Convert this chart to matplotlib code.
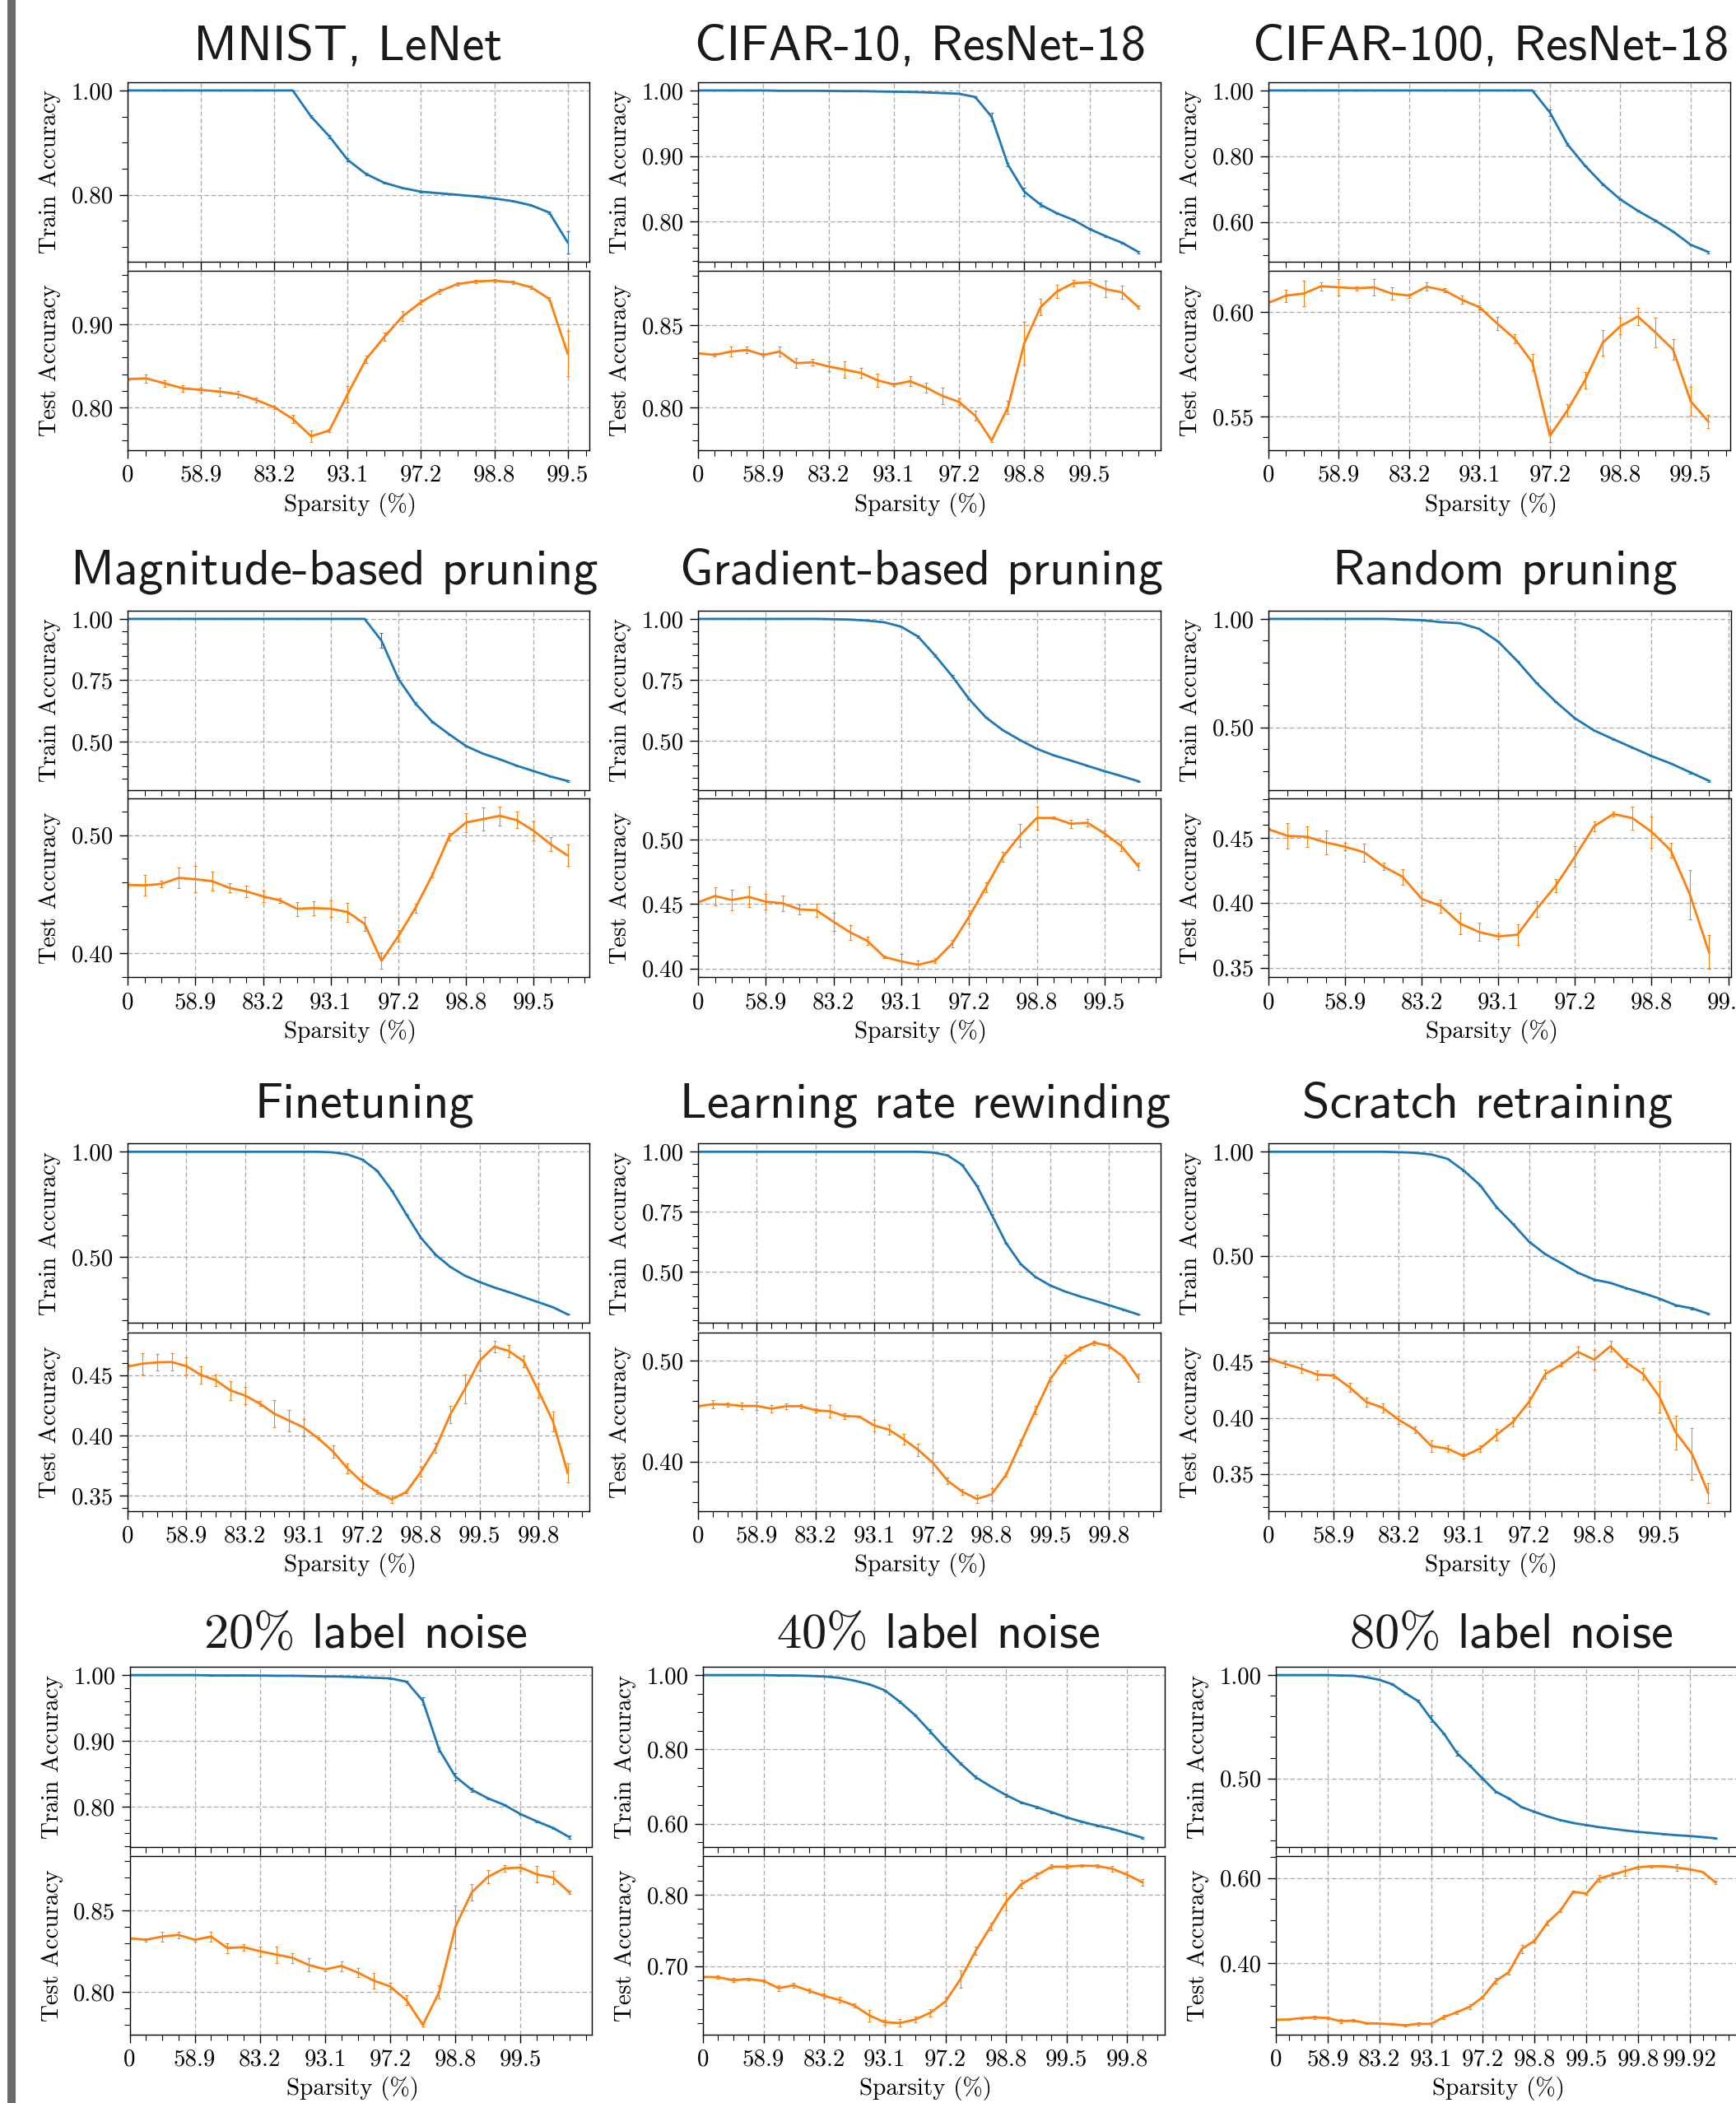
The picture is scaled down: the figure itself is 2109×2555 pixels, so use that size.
import matplotlib
matplotlib.use("Agg")
import matplotlib.pyplot as plt
from matplotlib.ticker import (MultipleLocator, AutoMinorLocator, FixedLocator,
                               FixedFormatter, FormatStrFormatter)
from matplotlib.patches import Rectangle

# ---------------- data ----------------
sparsity_labels = ["0", "58.9", "83.2", "93.1", "97.2", "98.8", "99.5", "99.8", "99.92"]

titles = ["MNIST, LeNet", "CIFAR-10, ResNet-18", "CIFAR-100, ResNet-18",
          "Magnitude-based pruning", "Gradient-based pruning", "Random pruning",
          "Finetuning", "Learning rate rewinding", "Scratch retraining",
          r"$20\%$ label noise", r"$40\%$ label noise", r"$80\%$ label noise"]

mnist_train = [1.0, 1.0, 1.0, 1.0, 1.0, 1.0, 1.0, 1.0, 1.0, 1.0, 0.950, 0.912, 0.867, 0.840,
               0.823, 0.813, 0.806, 0.803, 0.800, 0.797, 0.793, 0.788, 0.780, 0.766, 0.709]
mnist_train_err = [0, 0, 0, 0, 0, 0, 0, 0, 0, 0, 0.002, 0.003, 0.003, 0.002, 0.001, 0.001,
                   0.001, 0.001, 0.001, 0.001, 0.001, 0.001, 0.001, 0.002, 0.021]
mnist_test = [0.834, 0.835, 0.829, 0.823, 0.821, 0.819, 0.816, 0.809, 0.800, 0.786, 0.765,
              0.772, 0.816, 0.858, 0.885, 0.910, 0.927, 0.940, 0.949, 0.952, 0.953, 0.951,
              0.945, 0.931, 0.865]
mnist_test_err = [0.001, 0.005, 0.004, 0.004, 0.003, 0.005, 0.004, 0.003, 0.002, 0.005, 0.007,
                  0.002, 0.010, 0.004, 0.005, 0.006, 0.003, 0.003, 0.002, 0.002, 0.002, 0.002,
                  0.002, 0.002, 0.027]

cifar10_train = [1.0, 1.0, 1.0, 1.0, 1.0, 0.9995, 0.9995, 0.9995, 0.9993, 0.999, 0.999, 0.9985,
                 0.998, 0.9978, 0.997, 0.996, 0.995, 0.990, 0.960, 0.887, 0.846, 0.826, 0.813,
                 0.803, 0.789, 0.778, 0.768, 0.754]
cifar10_train_err = [0, 0, 0, 0, 0, 0, 0, 0, 0, 0, 0, 0, 0, 0, 0, 0, 0.0005, 0.001, 0.006, 0.003,
                     0.006, 0.003, 0.001, 0.001, 0.001, 0.001, 0.001, 0.002]
cifar10_test = [0.833, 0.832, 0.834, 0.835, 0.832, 0.834, 0.827, 0.8275, 0.825, 0.823, 0.821,
                0.8166, 0.814, 0.816, 0.812, 0.807, 0.8035, 0.795, 0.780, 0.800, 0.839, 0.861,
                0.8705, 0.8756, 0.8762, 0.872, 0.870, 0.861]
cifar10_test_err = [0.0005, 0.001, 0.003, 0.002, 0.001, 0.003, 0.003, 0.002, 0.003, 0.005, 0.003,
                    0.004, 0.001, 0.003, 0.003, 0.005, 0.002, 0.003, 0.001, 0.004, 0.013, 0.005,
                    0.004, 0.002, 0.002, 0.005, 0.004, 0.001]

cifar100_train = [1.0, 1.0, 1.0, 1.0, 1.0, 1.0, 1.0, 1.0, 1.0, 1.0, 1.0, 1.0, 1.0, 1.0, 1.0, 1.0,
                  0.933, 0.836, 0.771, 0.715, 0.669, 0.634, 0.604, 0.571, 0.531, 0.509]
cifar100_train_err = [0, 0, 0, 0, 0, 0, 0, 0, 0, 0, 0, 0, 0, 0, 0, 0, 0.010, 0.003, 0.002,
                      0.002, 0.002, 0.002, 0.002, 0.002, 0.002, 0.004]
cifar100_test = [0.6045, 0.608, 0.609, 0.6125, 0.612, 0.6115, 0.612, 0.609, 0.608, 0.6123,
                 0.6105, 0.606, 0.6024, 0.5946, 0.5873, 0.576, 0.5407, 0.553, 0.5675, 0.5854,
                 0.5933, 0.598, 0.5903, 0.5821, 0.5573, 0.5476]
cifar100_test_err = [0.001, 0.003, 0.006, 0.002, 0.004, 0.001, 0.004, 0.003, 0.001, 0.002, 0.001,
                     0.002, 0.001, 0.003, 0.002, 0.004, 0.003, 0.003, 0.004, 0.006, 0.004, 0.004,
                     0.007, 0.005, 0.007, 0.003]

magnitude_train = [1.0, 1.0, 1.0, 1.0, 1.0, 1.0, 1.0, 1.0, 1.0, 1.0, 1.0, 1.0, 1.0, 1.0, 1.0,
                   0.911, 0.755, 0.656, 0.581, 0.530, 0.482, 0.451, 0.428, 0.402, 0.380, 0.358,
                   0.340]
magnitude_train_err = [0, 0, 0, 0, 0, 0, 0, 0, 0, 0, 0, 0, 0, 0, 0, 0.030, 0.005, 0.006, 0.003,
                       0.002, 0.002, 0.002, 0.002, 0.002, 0.002, 0.002, 0.003]
magnitude_test = [0.4578, 0.4575, 0.4587, 0.4638, 0.4627, 0.461, 0.4553, 0.4524, 0.4481, 0.4447,
                  0.4376, 0.4382, 0.4376, 0.4348, 0.4248, 0.3934, 0.4145, 0.4382, 0.4661, 0.4989,
                  0.5108, 0.5137, 0.5165, 0.5128, 0.5037, 0.4923, 0.4829]
magnitude_test_err = [0.002, 0.0085, 0.003, 0.009, 0.011, 0.008, 0.004, 0.005, 0.005, 0.002,
                      0.006, 0.006, 0.007, 0.008, 0.006, 0.007, 0.005, 0.004, 0.002, 0.003, 0.008,
                      0.010, 0.008, 0.007, 0.008, 0.006, 0.009]

gradient_train = [1.0, 1.0, 1.0, 1.0, 1.0, 1.0, 1.0, 1.0, 0.9986, 0.997, 0.993, 0.986, 0.968,
                  0.927, 0.850, 0.766, 0.672, 0.596, 0.544, 0.504, 0.468, 0.441, 0.420, 0.398,
                  0.376, 0.356, 0.335]
gradient_train_err = [0, 0, 0, 0, 0, 0, 0, 0, 0, 0, 0.001, 0.001, 0.002, 0.004, 0.004, 0.003,
                      0.002, 0.001, 0.001, 0.001, 0.001, 0.001, 0.001, 0.001, 0.001, 0.001, 0.002]
gradient_test = [0.4513, 0.4562, 0.4531, 0.4555, 0.4518, 0.4505, 0.4458, 0.4451, 0.4362, 0.4279,
                 0.4214, 0.4089, 0.4055, 0.4029, 0.406, 0.4193, 0.4401, 0.463, 0.4865, 0.5031,
                 0.5167, 0.5167, 0.5122, 0.513, 0.5047, 0.4948, 0.4792]
gradient_test_err = [0.001, 0.007, 0.008, 0.008, 0.006, 0.006, 0.004, 0.005, 0.007, 0.006, 0.003,
                     0.001, 0.006, 0.003, 0.002, 0.003, 0.005, 0.004, 0.004, 0.009, 0.009, 0.001,
                     0.003, 0.003, 0.002, 0.004, 0.003]

random_train = [1.0, 1.0, 1.0, 1.0, 1.0, 1.0, 1.0, 0.997, 0.994, 0.985, 0.980, 0.954, 0.895,
                0.805, 0.704, 0.618, 0.542, 0.486, 0.446, 0.407, 0.368, 0.334, 0.294, 0.254]
random_train_err = [0, 0, 0, 0, 0, 0, 0, 0, 0, 0, 0.001, 0.001, 0.002, 0.002, 0.002, 0.003,
                    0.002, 0.002, 0.003, 0.002, 0.002, 0.002, 0.006, 0.004]
random_test = [0.4566, 0.4515, 0.4508, 0.4464, 0.4431, 0.4388, 0.4279, 0.42, 0.403, 0.3975,
               0.384, 0.3774, 0.3741, 0.3754, 0.3952, 0.4132, 0.4355, 0.4589, 0.4683, 0.4652,
               0.4546, 0.4404, 0.4063, 0.3619]
random_test_err = [0.001, 0.010, 0.008, 0.009, 0.003, 0.007, 0.003, 0.006, 0.005, 0.005, 0.008,
                   0.007, 0.002, 0.008, 0.006, 0.005, 0.008, 0.004, 0.002, 0.009, 0.012, 0.006,
                   0.019, 0.013]

finetune_train = [1.0, 1.0, 1.0, 1.0, 1.0, 1.0, 1.0, 1.0, 1.0, 1.0, 1.0, 1.0, 1.0, 1.0, 0.997,
                  0.987, 0.963, 0.910, 0.817, 0.702, 0.590, 0.510, 0.452, 0.410, 0.380, 0.354,
                  0.332, 0.308, 0.284, 0.260, 0.226]
finetune_train_err = [0, 0, 0, 0, 0, 0, 0, 0, 0, 0, 0, 0, 0, 0, 0, 0.001, 0.001, 0.002, 0.002,
                      0.002, 0.001, 0.001, 0.001, 0.001, 0.001, 0.001, 0.001, 0.001, 0.001,
                      0.001, 0.002]
finetune_test = [0.4571, 0.4594, 0.4605, 0.4608, 0.4574, 0.45, 0.4457, 0.4372, 0.433, 0.4264,
                 0.4179, 0.4122, 0.4065, 0.3974, 0.3866, 0.3724, 0.3611, 0.3531, 0.3469, 0.3531,
                 0.3699, 0.3895, 0.4173, 0.4386, 0.4619, 0.4736, 0.4699, 0.4614, 0.4372, 0.4116,
                 0.369]
finetune_test_err = [0.002, 0.009, 0.007, 0.007, 0.007, 0.007, 0.005, 0.008, 0.007, 0.002, 0.011,
                     0.009, 0.007, 0.001, 0.005, 0.004, 0.005, 0.002, 0.003, 0.001, 0.004, 0.004,
                     0.007, 0.012, 0.008, 0.005, 0.005, 0.005, 0.006, 0.008, 0.008]

lrr_train = [1.0, 1.0, 1.0, 1.0, 1.0, 1.0, 1.0, 1.0, 1.0, 1.0, 1.0, 1.0, 1.0, 1.0, 1.0, 1.0,
             0.997, 0.985, 0.945, 0.858, 0.739, 0.619, 0.532, 0.479, 0.444, 0.419, 0.399,
             0.381, 0.362, 0.343, 0.323]
lrr_train_err = [0, 0, 0, 0, 0, 0, 0, 0, 0, 0, 0, 0, 0, 0, 0, 0, 0.001, 0.001, 0.001, 0.002,
                 0.002, 0.002, 0.001, 0.001, 0.001, 0.001, 0.001, 0.001, 0.001, 0.001, 0.001]
lrr_test = [0.4547, 0.4567, 0.4564, 0.455, 0.455, 0.4523, 0.4547, 0.4547, 0.4507, 0.4497, 0.445,
            0.4443, 0.4356, 0.4315, 0.4221, 0.4114, 0.3987, 0.3809, 0.3701, 0.3628, 0.3674,
            0.3869, 0.4188, 0.4507, 0.4815, 0.5017, 0.5117, 0.5178, 0.5144, 0.5034, 0.4826]
lrr_test_err = [0.001, 0.004, 0.002, 0.003, 0.004, 0.004, 0.003, 0.002, 0.002, 0.006, 0.003,
                0.001, 0.006, 0.005, 0.005, 0.006, 0.010, 0.003, 0.003, 0.004, 0.006, 0.002,
                0.003, 0.004, 0.002, 0.004, 0.002, 0.002, 0.002, 0.001, 0.004]

scratch_train = [1.0, 1.0, 1.0, 1.0, 1.0, 1.0, 1.0, 1.0, 0.998, 0.995, 0.987, 0.966, 0.909,
                 0.839, 0.734, 0.654, 0.568, 0.508, 0.464, 0.419, 0.386, 0.370, 0.344, 0.321,
                 0.295, 0.263, 0.248, 0.222]
scratch_train_err = [0, 0, 0, 0, 0, 0, 0, 0, 0, 0, 0.001, 0.001, 0.002, 0.002, 0.004, 0.002,
                     0.002, 0.002, 0.002, 0.003, 0.004, 0.003, 0.002, 0.003, 0.004, 0.004,
                     0.006, 0.005]
scratch_test = [0.453, 0.4482, 0.4439, 0.4385, 0.4376, 0.427, 0.4142, 0.4091, 0.3982, 0.3894,
                0.3748, 0.3724, 0.3658, 0.3727, 0.3848, 0.3961, 0.4142, 0.4391, 0.4476, 0.4588,
                0.4518, 0.4639, 0.4491, 0.4391, 0.4188, 0.387, 0.3679, 0.333]
scratch_test_err = [0.001, 0.003, 0.004, 0.004, 0.002, 0.004, 0.004, 0.004, 0.004, 0.003, 0.005,
                    0.003, 0.002, 0.003, 0.005, 0.004, 0.004, 0.004, 0.002, 0.005, 0.009, 0.005,
                    0.004, 0.005, 0.014, 0.015, 0.023, 0.009]

noise20_train = [1.0, 1.0, 1.0, 1.0, 1.0, 0.9995, 0.9995, 0.9995, 0.9993, 0.999, 0.999, 0.9985,
                 0.998, 0.9978, 0.997, 0.996, 0.995, 0.990, 0.961, 0.887, 0.846, 0.826, 0.813,
                 0.803, 0.789, 0.778, 0.768, 0.754]
noise20_train_err = [0, 0, 0, 0, 0, 0, 0, 0, 0, 0, 0, 0, 0, 0, 0, 0, 0.0005, 0.001, 0.006, 0.003,
                     0.006, 0.003, 0.001, 0.001, 0.001, 0.001, 0.001, 0.002]
noise20_test = [0.833, 0.832, 0.834, 0.835, 0.832, 0.834, 0.827, 0.8275, 0.825, 0.823, 0.821,
                0.8166, 0.814, 0.816, 0.812, 0.807, 0.8035, 0.795, 0.780, 0.800, 0.840, 0.861,
                0.8705, 0.8756, 0.8762, 0.872, 0.870, 0.861]
noise20_test_err = [0.0005, 0.001, 0.003, 0.002, 0.001, 0.003, 0.003, 0.002, 0.003, 0.005, 0.003,
                    0.004, 0.001, 0.003, 0.003, 0.005, 0.002, 0.003, 0.001, 0.004, 0.013, 0.005,
                    0.004, 0.002, 0.002, 0.005, 0.004, 0.001]

noise40_train = [1.0, 1.0, 1.0, 1.0, 1.0, 0.9991, 0.999, 0.998, 0.9963, 0.9927, 0.985, 0.975,
                 0.959, 0.928, 0.892, 0.848, 0.803, 0.762, 0.725, 0.700, 0.677, 0.657, 0.645,
                 0.631, 0.617, 0.605, 0.595, 0.586, 0.574, 0.562]
noise40_train_err = [0, 0, 0, 0, 0, 0, 0, 0, 0, 0, 0.001, 0.002, 0.002, 0.003, 0.003, 0.006,
                     0.005, 0.004, 0.004, 0.002, 0.004, 0.003, 0.003, 0.002, 0.002, 0.002, 0.002,
                     0.002, 0.001, 0.002]
noise40_test = [0.6848, 0.6843, 0.68, 0.6819, 0.679, 0.669, 0.6729, 0.6652, 0.6581, 0.6524,
                0.6443, 0.6305, 0.621, 0.62, 0.6248, 0.6343, 0.65, 0.6819, 0.7214, 0.7557, 0.79,
                0.8148, 0.8271, 0.8395, 0.8395, 0.841, 0.8405, 0.8367, 0.8281, 0.8176]
noise40_test_err = [0.001, 0.002, 0.003, 0.002, 0.002, 0.004, 0.003, 0.003, 0.003, 0.004, 0.003,
                    0.008, 0.003, 0.005, 0.004, 0.005, 0.006, 0.012, 0.006, 0.005, 0.012, 0.006,
                    0.004, 0.003, 0.003, 0.002, 0.002, 0.004, 0.004, 0.005]

noise80_train = [1.0, 1.0, 1.0, 1.0, 1.0, 0.998, 0.997, 0.990, 0.977, 0.956, 0.913, 0.874, 0.789,
                 0.716, 0.623, 0.562, 0.498, 0.436, 0.403, 0.361, 0.338, 0.316, 0.298, 0.284,
                 0.274, 0.264, 0.256, 0.248, 0.241, 0.236, 0.230, 0.225, 0.221, 0.216, 0.210]
noise80_train_err = [0, 0, 0, 0, 0, 0, 0, 0, 0.002, 0.003, 0.004, 0.006, 0.015, 0.003, 0.012,
                     0.004, 0.003, 0.004, 0.004, 0.003, 0.002, 0.002, 0.002, 0.002, 0.002, 0.001,
                     0.001, 0.001, 0.001, 0.001, 0.001, 0.001, 0.001, 0.001, 0.001]
noise80_test = [0.2669, 0.2677, 0.271, 0.2726, 0.271, 0.2637, 0.2653, 0.2589, 0.2581, 0.2565,
                0.254, 0.2573, 0.2573, 0.2734, 0.2847, 0.2976, 0.3202, 0.3581, 0.3782, 0.4331,
                0.4524, 0.4952, 0.5234, 0.5677, 0.5629, 0.5984, 0.6073, 0.6161, 0.625, 0.6274,
                0.6274, 0.6242, 0.6202, 0.6137, 0.5895]
noise80_test_err = [0.001, 0.001, 0.002, 0.003, 0.003, 0.004, 0.003, 0.002, 0.001, 0.002, 0.003,
                    0.004, 0.004, 0.005, 0.004, 0.005, 0.003, 0.007, 0.006, 0.010, 0.004, 0.006,
                    0.004, 0.003, 0.003, 0.008, 0.006, 0.012, 0.004, 0.003, 0.002, 0.008, 0.002,
                    0.001, 0.004]

train_series = [mnist_train, cifar10_train, cifar100_train, magnitude_train, gradient_train,
                random_train, finetune_train, lrr_train, scratch_train, noise20_train,
                noise40_train, noise80_train]
train_errors = [mnist_train_err, cifar10_train_err, cifar100_train_err, magnitude_train_err,
                gradient_train_err, random_train_err, finetune_train_err, lrr_train_err,
                scratch_train_err, noise20_train_err, noise40_train_err, noise80_train_err]
test_series = [mnist_test, cifar10_test, cifar100_test, magnitude_test, gradient_test,
               random_test, finetune_test, lrr_test, scratch_test, noise20_test, noise40_test,
               noise80_test]
test_errors = [mnist_test_err, cifar10_test_err, cifar100_test_err, magnitude_test_err,
               gradient_test_err, random_test_err, finetune_test_err, lrr_test_err,
               scratch_test_err, noise20_test_err, noise40_test_err, noise80_test_err]

# number of labelled sparsity ticks per panel (every 4th pruning step)
n_xlabels = [7, 7, 7, 7, 7, 7, 8, 8, 7, 7, 8, 9]
# y major tick steps (train, test)
ystep_train = [0.2, 0.1, 0.2, 0.25, 0.25, 0.5, 0.5, 0.25, 0.5, 0.1, 0.2, 0.5]
ystep_test = [0.1, 0.05, 0.05, 0.1, 0.05, 0.05, 0.05, 0.1, 0.05, 0.05, 0.1, 0.2]

# ---------------- layout (pixels) ----------------
W, H, DPI = 2109, 2555, 100
# rows: (train top, train bottom, test top, test bottom, title baseline)
rows_px = [(100, 317.6, 329, 547, 72.7),
           (742, 959.6, 969.8, 1187.3, 709.5),
           (1389.4, 1607.3, 1618.8, 1835.9, 1357.6),
           (2025.2, 2243.6, 2255, 2472, 2002)]
cols_px = [(155.2, 716.3), (848, 1409.7), (1541, 2102),
           (155.2, 716.3), (848, 1409.7), (1541, 2103),
           (155.2, 716.3), (848, 1409.7), (1541, 2102),
           (157.5, 718.5), (853.9, 1414.6), (1550, 2111)]
title_x_px = [422.5, 1118.5, 1811, 406.5, 1119.8, 1828.4, 442.4, 1123.8, 1807.6,
              443.8, 1139.8, 1835.7]

plt.rcParams["font.family"] = ["cmr10", "DejaVu Serif"]
plt.rcParams["mathtext.fontset"] = "cm"
plt.rcParams["axes.unicode_minus"] = False
plt.rcParams["axes.linewidth"] = 1.0

BLUE, ORANGE = "#1f77b4", "#ff7f0e"
LABEL_FS, TICK_FS, TITLE_FS = 21, 20.8, 43.6

fig = plt.figure(figsize=(W / DPI, H / DPI), dpi=DPI)
fig.patch.set_facecolor("white")

# grey bar at the left edge
fig.add_artist(Rectangle((9 / W, 0), 9.5 / W, 1, transform=fig.transFigure,
                         facecolor="#6a6a6a", edgecolor="none"))


def fx(px):
    return px / W


def fy(py):
    return 1 - py / H


def style_axis(ax, ystep):
    ax.yaxis.set_major_locator(MultipleLocator(ystep))
    ax.yaxis.set_minor_locator(AutoMinorLocator())
    ax.yaxis.set_major_formatter(FormatStrFormatter("%.2f"))
    ax.grid(True, which="major", linestyle=(0, (4.2, 2.2)), color="#ababab", linewidth=0.95)
    ax.set_axisbelow(True)
    ax.tick_params(axis="both", which="major", direction="out", length=7.5, width=1.0,
                   pad=5, labelsize=TICK_FS)
    ax.tick_params(axis="both", which="minor", direction="out", length=4.8, width=0.8)
    for s in ax.spines.values():
        s.set_linewidth(1.0)


for i in range(12):
    r = i // 3
    t_top, t_bot, s_top, s_bot, base = rows_px[r]
    left, right = cols_px[i]
    ax_tr = fig.add_axes([fx(left), fy(t_bot), fx(right - left), (t_bot - t_top) / H])
    ax_te = fig.add_axes([fx(left), fy(s_bot), fx(right - left), (s_bot - s_top) / H],
                         sharex=ax_tr)

    x_tr = list(range(len(train_series[i])))
    x_te = list(range(len(test_series[i])))
    ax_tr.errorbar(x_tr, train_series[i], yerr=train_errors[i], color=BLUE, lw=2.0,
                   elinewidth=0.8, capsize=1.7, capthick=0.8)
    ax_te.errorbar(x_te, test_series[i], yerr=test_errors[i], color=ORANGE, lw=2.0,
                   elinewidth=0.8, capsize=1.7, capthick=0.8)

    style_axis(ax_tr, ystep_train[i])
    style_axis(ax_te, ystep_test[i])

    nl = n_xlabels[i]
    ticks = [4 * k for k in range(nl)]
    ax_te.xaxis.set_major_locator(FixedLocator(ticks))
    ax_te.xaxis.set_major_formatter(FixedFormatter(sparsity_labels[:nl]))
    ax_te.xaxis.set_minor_locator(MultipleLocator(1))
    ax_te.set_xlim(left=0)
    ax_tr.tick_params(axis="x", which="both", labelbottom=False)

    # labels
    ylab_x = fx(left - 94)
    fig.text(ylab_x, fy((t_top + t_bot) / 2), "Train Accuracy", rotation=90,
             ha="center", va="center", fontsize=LABEL_FS)
    fig.text(ylab_x, fy((s_top + s_bot) / 2), "Test Accuracy", rotation=90,
             ha="center", va="center", fontsize=LABEL_FS)
    fig.text(fx((left + right) / 2 - 10), fy(s_bot + 66), "Sparsity (%)",
             ha="center", va="center", fontsize=LABEL_FS)
    fig.text(fx(title_x_px[i]), fy(base), titles[i], ha="center", va="baseline",
             fontsize=TITLE_FS, family=["cmss10", "DejaVu Sans"], color="#1a1a1a")

fig.savefig("out.png", dpi=DPI)
